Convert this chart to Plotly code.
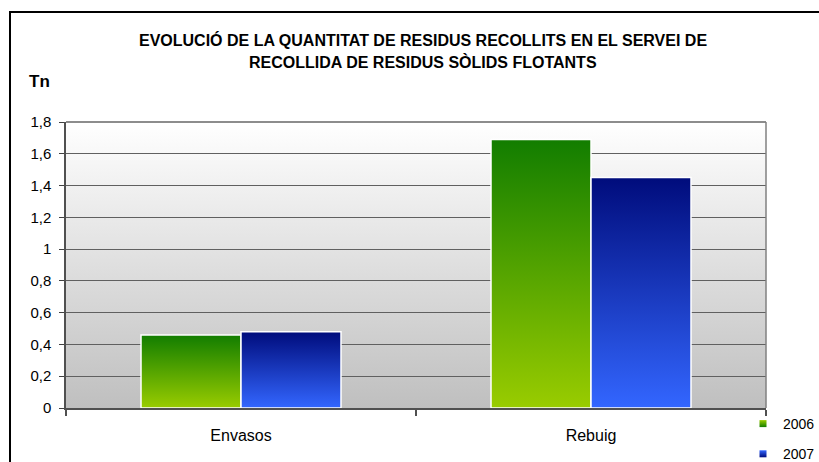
import base64
import plotly.graph_objects as go

categories = ["Envasos", "Rebuig"]
years = ["2006", "2007"]
v2006 = [0.46, 1.69]
v2007 = [0.48, 1.45]

title_lines = ["EVOLUCIÓ DE LA QUANTITAT DE RESIDUS RECOLLITS EN EL SERVEI DE",
               "RECOLLIDA DE RESIDUS SÒLIDS FLOTANTS"]
y_title = "Tn"

FONT = "Liberation Sans, Arial, sans-serif"
series = [
    (years[0], v2006, [[0, "#99cc00"], [1, "#127d00"]]),
    (years[1], v2007, [[0, "#3366ff"], [1, "#000c7c"]]),
]
bar_w = 0.2857  # fraction of category width for each bar

PL, PR, PT, PB = 66, 53, 122, 54
W, H = 819, 462
pw, ph = W - PL - PR, H - PT - PB


def px_x(x):
    return (x - PL) / pw


def px_y(y):
    return (H - PB - y) / ph


fig = go.Figure()
for si, (name, vals, cscale) in enumerate(series):
    for ci, v in enumerate(vals):
        x0 = ci + (si - 1) * bar_w
        x1 = x0 + bar_w
        fig.add_trace(go.Scatter(
            x=[x0, x1, x1, x0, x0], y=[0, 0, v, v, 0],
            mode="lines", fill="toself",
            fillgradient=dict(type="vertical", colorscale=cscale),
            line=dict(color="white", width=1.5),
            name=name, showlegend=False,
            hoverinfo="text", text=f"{categories[ci]} {name}: {v}",
        ))
    # legend entry (small gradient square)
    fig.add_trace(go.Scatter(
        x=[None], y=[None], mode="markers", name=name, legendgroup=name,
        marker=dict(symbol="square", size=7, color=cscale[0][1],
                    gradient=dict(type="vertical", color=cscale[1][1]),
                    line=dict(width=0)),
        hoverinfo="skip",
    ))

svg = ('<svg xmlns="http://www.w3.org/2000/svg" width="10" height="100" preserveAspectRatio="none">'
       '<defs><linearGradient id="g" x1="0" y1="0" x2="0" y2="1">'
       '<stop offset="0" stop-color="#ffffff"/><stop offset="1" stop-color="#bfbfbf"/>'
       '</linearGradient></defs><rect width="10" height="100" fill="url(#g)"/></svg>')
src = "data:image/svg+xml;base64," + base64.b64encode(svg.encode()).decode()

annotations = [
    dict(text="<b>" + title_lines[0] + "</b>", xref="paper", yref="paper",
         x=px_x(423), y=px_y(40), xanchor="center", yanchor="middle",
         showarrow=False, font=dict(size=16)),
    dict(text="<b>" + title_lines[1] + "</b>", xref="paper", yref="paper",
         x=px_x(423), y=px_y(62), xanchor="center", yanchor="middle",
         showarrow=False, font=dict(size=16)),
    dict(text="<b>" + y_title + "</b>", xref="paper", yref="paper",
         x=px_x(27), y=px_y(81), xanchor="left", yanchor="middle",
         showarrow=False, font=dict(size=17)),
]

fig.update_layout(
    width=W, height=H,
    margin=dict(l=PL, r=PR, t=PT, b=PB, autoexpand=False),
    paper_bgcolor="white", plot_bgcolor="white",
    font=dict(family=FONT, size=15, color="black"),
    separators=",.",
    showlegend=True,
    legend=dict(x=px_x(743), xanchor="left", y=px_y(408), yanchor="top",
                bgcolor="rgba(0,0,0,0)", font=dict(size=14),
                tracegroupgap=9, itemwidth=30),
    images=[dict(source=src, xref="paper", yref="paper", x=0, y=1, sizex=1, sizey=1,
                 xanchor="left", yanchor="top", sizing="stretch", layer="below")],
    shapes=[
        dict(type="rect", xref="paper", yref="paper",
             x0=px_x(10), x1=px_x(840), y0=px_y(480), y1=px_y(12),
             line=dict(color="black", width=2), fillcolor="rgba(0,0,0,0)"),
        dict(type="line", xref="paper", yref="paper", x0=0, x1=1, y0=1, y1=1,
             line=dict(color="#8c8c8c", width=2)),
        dict(type="line", xref="paper", yref="paper", x0=1, x1=1, y0=0, y1=1,
             line=dict(color="#808080", width=1.5)),
    ],
    annotations=annotations,
    hovermode="closest",
)
fig.update_xaxes(
    range=[-0.5, 1.5], tickmode="array", tickvals=[0, 1], ticktext=categories,
    ticks="", showgrid=False, zeroline=False, tickfont=dict(size=16),
    showline=True, linecolor="#505050", linewidth=1.5, mirror=False,
    ticklabelstandoff=12,
    minor=dict(tick0=-0.5, dtick=1, ticks="outside", ticklen=6, tickcolor="#505050",
               tickwidth=1.5, showgrid=False),
)
fig.update_yaxes(
    range=[0, 1.8], dtick=0.2, tick0=0,
    ticks="outside", ticklen=5, tickcolor="#404040",
    showgrid=True, gridcolor="#606060", gridwidth=1, zeroline=False,
    showline=True, linecolor="#505050", linewidth=1.5, mirror=False,
    ticklabelstandoff=5, tickfont=dict(size=15),
)

fig.write_html("out.html", config={"displayModeBar": False},
               post_script="document.body.style.margin='0';document.body.style.overflow='hidden';")
